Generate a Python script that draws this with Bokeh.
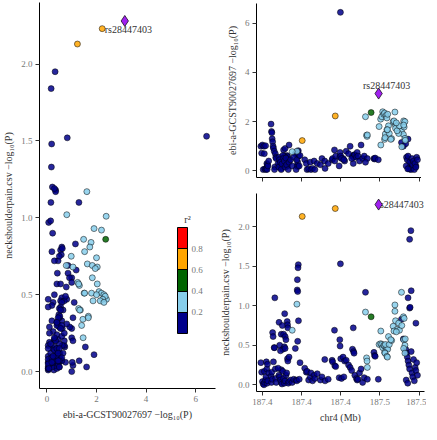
from bokeh.plotting import figure
from bokeh.layouts import row, column
from bokeh.models import (ColumnDataSource, FixedTicker, LinearColorMapper, ColorBar,
                          NumeralTickFormatter, Range1d, Label)
from bokeh.embed import file_html
from bokeh.resources import INLINE

# ---------------- data ----------------
# position (Mb), ebi-a-GCST90027697 -log10(P), neckshoulderpain.csv -log10(P), r2 bin
# r2 bin: 0 = <0.2, 1 = 0.2-0.4, 2 = 0.4-0.6, 3 = 0.6-0.8, 4 = >0.8
pos_mb = [
    # 187.374-187.380
    187.3740, 187.3745, 187.3750, 187.3755, 187.3760, 187.3762, 187.3765, 187.3770, 187.3772, 187.3775,
    187.3778, 187.3780, 187.3782, 187.3785, 187.3790,
    # 187.380-187.384
    187.3805, 187.3808, 187.3810, 187.3812, 187.3815, 187.3818, 187.3820, 187.3825, 187.3829, 187.3832,
    187.3835, 187.3838,
    # 187.384-187.400
    187.3979, 187.3977, 187.3973, 187.3972, 187.3975, 187.3970, 187.3940, 187.3892, 187.3980, 187.3856,
    187.3908, 187.3910, 187.3912, 187.3877, 187.3870, 187.3885, 187.3895, 187.3900, 187.3975, 187.3860,
    187.3880, 187.3890, 187.3865, 187.3895, 187.3827, 187.3960, 187.3910, 187.3912, 187.3920, 187.3870,
    187.3880, 187.3850, 187.3855, 187.3860, 187.3865, 187.3870, 187.3875, 187.3885, 187.3890, 187.3895,
    187.3900, 187.3905, 187.3915, 187.3920, 187.3930, 187.3940, 187.3950, 187.3965, 187.3970, 187.3985,
    187.3990,
    # 187.400-187.422
    187.4004, 187.4020, 187.4030, 187.4035, 187.4045, 187.4055, 187.4060, 187.4070, 187.4080, 187.4085,
    187.4100, 187.4120, 187.4130, 187.4148, 187.4150, 187.4170, 187.4195, 187.4198, 187.4210, 187.4212,
    187.4215, 187.4218,
    # 187.422-187.449
    187.4248, 187.4244, 187.4246, 187.4250, 187.4265, 187.4275, 187.4285, 187.4240, 187.4255, 187.4270,
    187.4330, 187.4325, 187.4332, 187.4335, 187.4300, 187.4310, 187.4320, 187.4340, 187.4350, 187.4355,
    187.4360, 187.4370, 187.4380, 187.4390, 187.4400, 187.4420, 187.4408, 187.4408, 187.4444, 187.4415,
    187.4418, 187.4420, 187.4462, 187.4466, 187.4470, 187.4490,
    # 187.463-187.474 low r2
    187.4638, 187.4650, 187.4700, 187.4680, 187.4690, 187.4693, 187.4730, 187.4698, 187.4690, 187.4665,
    187.4670, 187.4675, 187.4680, 187.4685, 187.4690, 187.4700, 187.4705, 187.4710, 187.4715, 187.4720,
    187.4725, 187.4730, 187.4735, 187.4668, 187.4678, 187.4740,
    # 187.449-187.467 r2 0.2-0.4 cluster
    187.4638, 187.4596, 187.4596, 187.4650, 187.4655, 187.4600, 187.4620, 187.4585, 187.4610, 187.4625,
    187.4590, 187.4605, 187.4640, 187.4506, 187.4652, 187.4495, 187.4505, 187.4512, 187.4518, 187.4525,
    187.4530, 187.4540, 187.4545, 187.4550, 187.4555, 187.4535, 187.4560, 187.4660, 187.4652, 187.4530,
    187.4533, 187.4660, 187.4662, 187.4545, 187.4548, 187.4575, 187.4570,
]
ebi_lp = [
    1.00, 0.72, 1.05, 0.05, 1.00, 0.70, 0.08, 1.02, 0.05, 0.10,
    0.30, 0.06, 0.25, 0.20, 0.40,
    1.90, 1.60, 1.55, 1.30, 1.18, 1.00, 0.92, 0.80, 0.16, 0.70,
    0.55, 0.50,
    0.82, 0.19, 0.18, 0.22, 0.35, 0.80, 0.78, 0.23, 0.60, 0.55,
    0.62, 0.58, 0.45, 0.50, 0.42, 0.85, 0.91, 0.40, 0.78, 0.30,
    0.25, 0.60, 0.20, 0.55, 0.05, 0.70, 0.20, 0.45, 1.05, 0.10,
    0.62, 0.30, 0.15, 0.45, 0.35, 0.05, 0.28, 0.50, 0.40, 0.15,
    0.52, 0.25, 0.05, 0.35, 0.45, 0.20, 0.55, 0.05, 0.45, 0.20,
    0.62,
    1.23, 0.45, 0.30, 0.05, 0.08, 0.35, 0.05, 0.10, 0.40, 0.05,
    0.30, 0.25, 0.50, 0.40, 0.10, 0.30, 0.45, 0.50, 0.85, 0.40,
    2.23, 0.60,
    6.44, 0.55, 0.75, 0.60, 0.50, 0.40, 0.80, 0.20, 0.50, 0.45,
    0.30, 0.60, 0.55, 0.65, 0.70, 1.00, 0.50, 0.65, 0.55, 0.75,
    0.60, 0.40, 1.05, 0.50, 0.60, 0.50, 0.35, 2.20, 2.37, 1.45,
    1.40, 1.46, 0.50, 0.48, 0.52, 0.45,
    1.15, 1.00, 0.30, 1.29, 0.07, 0.15, 0.20, 0.33, 0.17, 1.10,
    0.55, 0.45, 0.60, 0.10, 0.35, 0.05, 0.50, 0.25, 0.40, 0.05,
    0.30, 0.15, 0.55, 0.20, 0.08, 0.45,
    1.61, 2.39, 1.90, 1.48, 1.78, 1.73, 1.52, 2.00, 1.63, 1.83,
    2.03, 1.95, 0.98, 1.05, 2.03, 1.80, 2.10, 2.20, 2.40, 2.30,
    2.35, 2.25, 2.15, 2.30, 1.83, 1.50, 1.52, 2.00, 1.86, 1.28,
    1.35, 1.32, 1.24, 1.67, 1.67, 1.31, 1.28,
]
neck_lp = [
    0.28, 0.16, 0.04, 0.01, 0.00, 0.17, 0.03, 0.06, 0.10, 0.29,
    0.20, 0.02, 0.26, 0.05, 0.15,
    0.11, 0.03, 0.16, 0.07, 0.66, 0.61, 0.29, 0.47, 1.10, 0.20,
    0.08, 0.03,
    1.52, 1.48, 1.33, 1.20, 1.18, 1.02, 0.69, 0.90, 0.81, 0.79,
    0.80, 0.76, 0.72, 0.75, 0.64, 0.64, 0.61, 0.57, 0.55, 0.50,
    0.45, 0.48, 0.43, 0.46, 0.47, 0.46, 0.33, 0.30, 0.35, 0.19,
    0.17, 0.21, 0.12, 0.10, 0.06, 0.03, 0.01, 0.08, 0.02, 0.05,
    0.12, 0.15, 0.02, 0.04, 0.06, 0.03, 0.07, 0.06, 0.05, 0.07,
    0.28,
    2.13, 0.21, 0.16, 0.17, 0.06, 0.10, 0.15, 0.05, 0.12, 0.08,
    0.14, 0.06, 0.10, 0.32, 0.05, 0.07, 0.31, 0.29, 0.69, 0.24,
    2.23, 0.23,
    1.53, 0.57, 0.49, 0.33, 0.35, 0.30, 0.31, 0.09, 0.08, 0.10,
    0.72, 0.45, 0.42, 0.40, 0.25, 0.22, 0.18, 0.12, 0.08, 0.06,
    0.07, 0.15, 0.20, 0.03, 0.09, 0.07, 1.17, 0.92, 0.86, 0.34,
    0.30, 0.22, 0.41, 0.37, 0.36, 0.07,
    0.83, 0.58, 1.19, 1.10, 0.97, 0.98, 0.78, 1.95, 1.84, 0.45,
    0.40, 0.35, 0.30, 0.25, 0.20, 0.42, 0.15, 0.10, 0.32, 0.05,
    0.22, 0.18, 0.28, 0.06, 0.02, 0.12,
    1.17, 1.01, 0.93, 0.86, 0.84, 0.81, 0.78, 0.74, 0.70, 0.69,
    0.68, 0.67, 0.75, 0.68, 0.57, 0.51, 0.52, 0.51, 0.47, 0.50,
    0.49, 0.47, 0.46, 0.45, 0.61, 0.51, 0.51, 0.50, 0.46, 0.41,
    0.40, 0.40, 0.58, 0.36, 0.35, 0.56, 0.57,
]
r2_bin = [
    0, 0, 0, 0, 0, 0, 0, 0, 0, 0,
    0, 0, 0, 0, 0,
    0, 0, 0, 0, 0, 0, 0, 0, 0, 0,
    0, 0,
    0, 0, 0, 0, 0, 1, 1, 0, 0, 0,
    0, 0, 0, 0, 0, 0, 0, 0, 0, 0,
    0, 0, 0, 0, 0, 0, 0, 0, 0, 0,
    0, 0, 0, 0, 0, 0, 0, 0, 0, 0,
    0, 0, 0, 0, 0, 0, 0, 0, 0, 0,
    0,
    3, 0, 0, 0, 0, 0, 0, 0, 0, 0,
    0, 0, 0, 0, 0, 0, 0, 0, 0, 0,
    3, 0,
    0, 0, 0, 0, 0, 0, 0, 0, 0, 0,
    0, 0, 0, 0, 0, 0, 0, 0, 0, 0,
    0, 0, 0, 0, 0, 0, 0, 1, 2, 1,
    1, 1, 0, 0, 0, 0,
    0, 0, 0, 0, 0, 0, 0, 0, 0, 0,
    0, 0, 0, 0, 0, 0, 0, 0, 0, 0,
    0, 0, 0, 0, 0, 0,
    1, 1, 1, 1, 1, 1, 1, 1, 1, 1,
    1, 1, 1, 1, 1, 1, 1, 1, 1, 1,
    1, 1, 1, 1, 1, 1, 1, 1, 1, 1,
    1, 1, 1, 1, 1, 1, 1,
]

lead_id = "rs28447403"
lead_pos = [187.4492]
lead_ebi = [3.14]
lead_neck = [2.28]

r2_breaks = [0.2, 0.4, 0.6, 0.8]
r2_colors = ["#00008B", "#87CEEB", "#006400", "#FFA500", "#FF0000"]
lead_color = "#A020F0"

pos_ticks = [187.375, 187.400, 187.425, 187.450, 187.475]
pos_tick_labels = ["187.4", "187.4", "187.4", "187.5", "187.5"]

ebi_title = "ebi-a-GCST90027697 \u2212log\u2081\u2080(P)"
neck_title = "neckshoulderpain.csv \u2212log\u2081\u2080(P)"
pos_title = "chr4 (Mb)"

# ---------------- styling ----------------
FONT = "Liberation Serif"
TICK_COLOR = "#777777"
TITLE_COLOR = "#333333"


def style(p):
    p.outline_line_color = None
    p.xgrid.visible = False
    p.ygrid.visible = False
    p.background_fill_color = "white"
    for ax in (p.xaxis[0], p.yaxis[0]):
        ax.axis_line_color = "black"
        ax.axis_line_width = 1
        ax.major_tick_line_color = "#333333"
        ax.major_tick_in = 0
        ax.major_tick_out = 4
        ax.minor_tick_line_color = None
        ax.major_label_text_font = FONT
        ax.major_label_text_font_size = "9px"
        ax.major_label_text_color = TICK_COLOR
        ax.axis_label_text_font = FONT
        ax.axis_label_text_font_size = "10px"
        ax.axis_label_text_font_style = "normal"
        ax.axis_label_text_color = TITLE_COLOR
        ax.axis_label_standoff = 4
        ax.major_label_standoff = 3


def split_sources(xvals, yvals):
    out = []
    for b in range(5):
        idx = [i for i, r in enumerate(r2_bin) if r == b]
        out.append((b, ColumnDataSource(dict(x=[xvals[i] for i in idx],
                                              y=[yvals[i] for i in idx]))))
    return out


def draw_points(p, xvals, yvals):
    for b, src in split_sources(xvals, yvals):
        p.scatter("x", "y", source=src, marker="circle", size=6,
                  fill_color=r2_colors[b], fill_alpha=0.85,
                  line_color="black", line_width=0.5)


# ---------------- left: scatter of the two -log10(P) ----------------
left = figure(frame_width=176, frame_height=386, output_backend="svg", toolbar_location=None,
              x_range=Range1d(-0.3, 6.8), y_range=Range1d(-0.11, 2.40),
              min_border_left=26, min_border_right=2, min_border_top=2, min_border_bottom=28)
style(left)
left.xaxis.ticker = FixedTicker(ticks=[0, 2, 4, 6])
left.yaxis.ticker = FixedTicker(ticks=[0.0, 0.5, 1.0, 1.5, 2.0])
left.yaxis.formatter = NumeralTickFormatter(format="0.0")
left.xaxis.axis_label = ebi_title
left.yaxis.axis_label = neck_title
draw_points(left, ebi_lp, neck_lp)
left.text(x=lead_ebi, y=lead_neck, text=[lead_id], x_offset=-20, y_offset=9,
          text_font={"value": FONT}, text_font_size="10px", text_color="#333333",
          text_align="left", text_baseline="middle")
left.scatter(x=lead_ebi, y=lead_neck, marker="diamond", size=11,
             fill_color=lead_color, line_color="black", line_width=0.7)

mapper = LinearColorMapper(palette=r2_colors, low=0, high=1)
cbar = ColorBar(color_mapper=mapper, ticker=FixedTicker(ticks=r2_breaks),
                width=10, height=106, location=(138, 55), padding=0,
                major_label_text_font=FONT, major_label_text_font_size="9px",
                major_label_text_color=TICK_COLOR, label_standoff=4,
                bar_line_color="black", bar_line_width=1,
                major_tick_line_color="black", major_tick_in=10, major_tick_out=0,
                minor_tick_line_color=None,
                background_fill_alpha=0, border_line_color=None)
left.add_layout(cbar, "center")
left.add_layout(Label(x=148, y=164, x_units="screen", y_units="screen", text="r\u00b2",
                      text_font=FONT, text_font_size="10px", text_color=TITLE_COLOR,
                      text_align="center", text_baseline="bottom"))

# ---------------- right top: position vs ebi ----------------
xr = Range1d(187.3712, 187.4785)
top = figure(frame_width=168, frame_height=174, output_backend="svg", toolbar_location=None,
             x_range=xr, y_range=Range1d(-0.27, 6.8),
             min_border_left=34, min_border_right=2, min_border_top=3, min_border_bottom=12)
style(top)
top.xaxis.ticker = FixedTicker(ticks=pos_ticks)
top.xaxis.major_label_overrides = {t: "" for t in pos_ticks}
top.yaxis.ticker = FixedTicker(ticks=[0, 2, 4, 6])
top.yaxis.axis_label = ebi_title
draw_points(top, pos_mb, ebi_lp)
top.scatter(x=lead_pos, y=lead_ebi, marker="diamond", size=11,
            fill_color=lead_color, line_color="black", line_width=0.7)
top.text(x=lead_pos, y=lead_ebi, text=[lead_id], x_offset=8, y_offset=-8,
         text_font={"value": FONT}, text_font_size="10px", text_color="#333333",
         text_align="center", text_baseline="middle")

# ---------------- right bottom: position vs neck ----------------
bot = figure(frame_width=168, frame_height=198, output_backend="svg", toolbar_location=None,
             x_range=xr, y_range=Range1d(-0.085, 2.42),
             min_border_left=34, min_border_right=2, min_border_top=4, min_border_bottom=28)
style(bot)
bot.xaxis.ticker = FixedTicker(ticks=pos_ticks)
bot.xaxis.major_label_overrides = dict(zip(pos_ticks, pos_tick_labels))
bot.yaxis.ticker = FixedTicker(ticks=[0.0, 0.5, 1.0, 1.5, 2.0])
bot.yaxis.formatter = NumeralTickFormatter(format="0.0")
bot.xaxis.axis_label = pos_title
bot.yaxis.axis_label = neck_title
draw_points(bot, pos_mb, neck_lp)
bot.text(x=lead_pos, y=lead_neck, text=[lead_id], x_offset=-2, y_offset=0,
         text_font={"value": FONT}, text_font_size="10px", text_color="#333333",
         text_align="left", text_baseline="middle")
bot.scatter(x=lead_pos, y=lead_neck, marker="diamond", size=11,
            fill_color=lead_color, line_color="black", line_width=0.7)

layout = row(left, column(top, bot))
open("out.html", "w").write(file_html(layout, INLINE))
